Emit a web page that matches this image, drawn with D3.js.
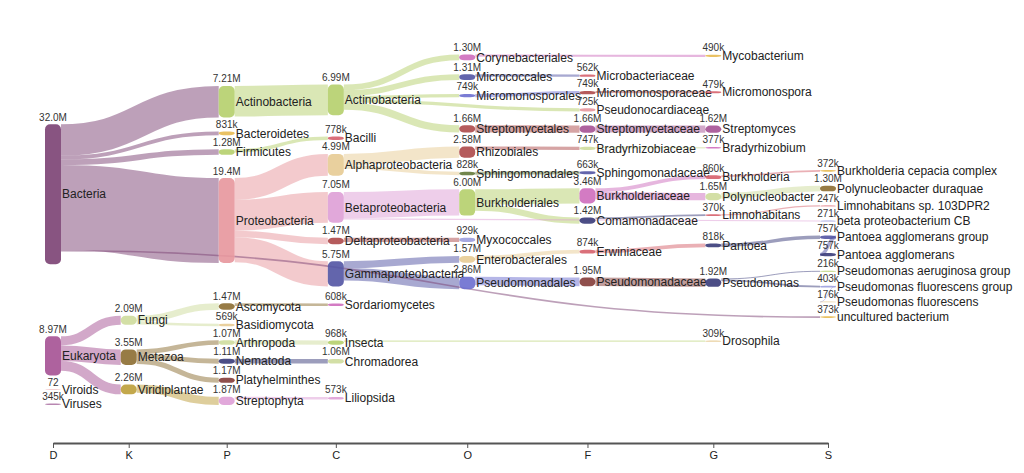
<!DOCTYPE html>
<html><head><meta charset="utf-8">
<script src="https://cdn.jsdelivr.net/npm/d3@7"></script>
<style>
body{margin:0;background:#fff;}
svg{display:block;font-family:Arial,"Liberation Sans",sans-serif;}
</style></head><body>
<svg id="chart" width="1024" height="473"></svg>
<script>
// ---------------- DATA ----------------
const rankLabels = ["D","K","P","C","O","F","G","S"];

const taxa = [
  "Bacteria","Actinobacteria","Actinobacteria","Corynebacteriales","Mycobacterium",
  "Micrococcales","Microbacteriaceae","Micromonosporales","Micromonosporaceae","Micromonospora",
  "Pseudonocardiaceae","Streptomycetales","Streptomycetaceae","Streptomyces","Bacteroidetes",
  "Firmicutes","Bacilli","Proteobacteria","Alphaproteobacteria","Rhizobiales",
  "Bradyrhizobiaceae","Bradyrhizobium","Sphingomonadales","Sphingomonadaceae","Betaproteobacteria",
  "Burkholderiales","Burkholderiaceae","Burkholderia","Burkholderia cepacia complex","Polynucleobacter",
  "Polynucleobacter duraquae","Comamonadaceae","Limnohabitans","Limnohabitans sp. 103DPR2","beta proteobacterium CB",
  "Deltaproteobacteria","Myxococcales","Gammaproteobacteria","Enterobacterales","Erwiniaceae",
  "Pantoea","Pantoea agglomerans group","Pantoea agglomerans","Pseudomonadales","Pseudomonadaceae",
  "Pseudomonas","Pseudomonas aeruginosa group","Pseudomonas fluorescens group","Pseudomonas fluorescens","uncultured bacterium",
  "Eukaryota","Fungi","Ascomycota","Sordariomycetes","Basidiomycota",
  "Metazoa","Arthropoda","Insecta","Drosophila","Nematoda",
  "Chromadorea","Platyhelminthes","Viridiplantae","Streptophyta","Liliopsida",
  "Viroids","Viruses"
];

const taxonRanks = [
  "D","P","C","O","G",
  "O","F","O","F","G",
  "F","O","F","G","P",
  "P","C","P","C","O",
  "F","G","O","F","C",
  "O","F","G","S","G",
  "S","F","G","S","S",
  "C","O","C","O","F",
  "G","S","S","O","F",
  "G","S","S","S","S",
  "D","K","P","C","P",
  "K","P","C","G","P",
  "C","P","K","P","C",
  "D","D"
];

const parentIndex = [
  -1,0,1,2,3,
  2,5,2,7,8,
  2,2,11,12,0,
  0,15,0,17,18,
  19,20,18,22,17,
  24,25,26,27,26,
  29,25,31,32,24,
  17,35,17,37,38,
  39,40,41,37,43,
  44,45,45,47,0,
  -1,50,51,52,51,
  50,55,56,57,55,
  59,55,50,62,63,
  -1,-1
];

const reads = [
  32.0e6,7.21e6,6.99e6,1.30e6,490e3,
  1.31e6,562e3,749e3,749e3,479e3,
  725e3,1.66e6,1.66e6,1.62e6,831e3,
  1.28e6,778e3,19.4e6,4.99e6,2.58e6,
  747e3,377e3,828e3,663e3,7.05e6,
  6.00e6,3.46e6,860e3,372e3,1.65e6,
  1.30e6,1.42e6,370e3,247e3,271e3,
  1.47e6,929e3,5.75e6,1.57e6,874e3,
  818e3,757e3,757e3,2.86e6,1.95e6,
  1.92e6,216e3,403e3,176e3,373e3,
  8.97e6,2.09e6,1.47e6,608e3,569e3,
  3.55e6,1.07e6,968e3,309e3,1.11e6,
  1.06e6,1.17e6,2.26e6,1.87e6,573e3,
  72,345e3
];

// ---------------- STYLE ----------------
const nodeColors = {
  "Bacteria|D":"#7b4173","Eukaryota|D":"#a55194","Viroids|D":"#e7969c","Viruses|D":"#b07aa8",
  "Fungi|K":"#cedb9c","Metazoa|K":"#8c6d31","Viridiplantae|K":"#bd9e39",
  "Actinobacteria|P":"#b5cf6b","Bacteroidetes|P":"#e7ba52","Firmicutes|P":"#b5cf6b","Proteobacteria|P":"#e7969c",
  "Ascomycota|P":"#8c6d31","Basidiomycota|P":"#e7cb94","Arthropoda|P":"#cedb9c","Nematoda|P":"#393b79",
  "Platyhelminthes|P":"#843c39","Streptophyta|P":"#de9ed6",
  "Actinobacteria|C":"#b5cf6b","Bacilli|C":"#d6616b","Alphaproteobacteria|C":"#e7cb94","Betaproteobacteria|C":"#de9ed6",
  "Deltaproteobacteria|C":"#ad494a","Gammaproteobacteria|C":"#5254a3","Sordariomycetes|C":"#ce6dbd",
  "Insecta|C":"#b5cf6b","Chromadorea|C":"#cedb9c","Liliopsida|C":"#de9ed6",
  "Corynebacteriales|O":"#ce6dbd","Micrococcales|O":"#5254a3","Micromonosporales|O":"#6b6ecf","Streptomycetales|O":"#ad494a",
  "Rhizobiales|O":"#ad494a","Sphingomonadales|O":"#637939","Burkholderiales|O":"#b5cf6b","Myxococcales|O":"#9c9ede",
  "Enterobacterales|O":"#e7cb94","Pseudomonadales|O":"#6b6ecf",
  "Microbacteriaceae|F":"#d6616b","Micromonosporaceae|F":"#ad494a","Pseudonocardiaceae|F":"#e7969c","Streptomycetaceae|F":"#a55194",
  "Bradyrhizobiaceae|F":"#cedb9c","Sphingomonadaceae|F":"#5254a3","Burkholderiaceae|F":"#ce6dbd","Comamonadaceae|F":"#393b79",
  "Erwiniaceae|F":"#d6616b","Pseudomonadaceae|F":"#843c39",
  "Mycobacterium|G":"#e7ba52","Micromonospora|G":"#d6616b","Streptomyces|G":"#a55194","Bradyrhizobium|G":"#ce6dbd",
  "Burkholderia|G":"#d6616b","Polynucleobacter|G":"#cedb9c","Limnohabitans|G":"#d6616b","Pantoea|G":"#393b79",
  "Pseudomonas|G":"#393b79","Drosophila|G":"#e7cb94",
  "Burkholderia cepacia complex|S":"#e7ba52","Polynucleobacter duraquae|S":"#8c6d31","Limnohabitans sp. 103DPR2|S":"#e7969c",
  "beta proteobacterium CB|S":"#9c9ede","Pantoea agglomerans group|S":"#5254a3","Pantoea agglomerans|S":"#393b79",
  "Pseudomonas aeruginosa group|S":"#b5cf6b","Pseudomonas fluorescens group|S":"#9c9ede","Pseudomonas fluorescens|S":"#e7cb94",
  "uncultured bacterium|S":"#e7ba52"
};

const Y0 = 47, Y1 = 405, nodeWidth = 16, py = 14, iterations = 150;
const axisY = 443;

// ---------------- BUILD ----------------
const svg = d3.select("#chart");
const nodes = taxa.map((name, i) => ({ index: i, name, rank: taxonRanks[i], value: reads[i], sourceLinks: [], targetLinks: [] }));
nodes.forEach(n => { n.color = nodeColors[n.name + "|" + n.rank] || "#999"; n.layer = rankLabels.indexOf(n.rank); });
const links = [];
parentIndex.forEach((p, i) => {
  if (p >= 0) {
    const l = { index: links.length, source: nodes[p], target: nodes[i], value: reads[i] };
    links.push(l); nodes[p].sourceLinks.push(l); nodes[i].targetLinks.push(l);
  }
});

const columns = rankLabels.map(r => nodes.filter(n => n.rank === r));
const maxChars = columns.map(c => d3.max(c, n => n.name.length) || 0);
const cum = Array.from(d3.cumsum([0, ...maxChars.slice(0, -1).map(m => m + 4.6)]));
const colPos = d3.scaleLinear().domain([0, cum[cum.length - 1]]).range([53, 828]);
const xRank = d3.scaleOrdinal().domain(rankLabels).range(cum.map(c => colPos(c)));
const yScale = d3.scaleLinear().domain([0, d3.max(reads)]).range([0, 140]);

nodes.forEach(n => { n.x = xRank(n.rank) - nodeWidth / 2; n.h = yScale(n.value); });
links.forEach(l => l.width = yScale(l.value));

// ---- sankey breadth layout (d3-sankey style, tree order kept) ----
const byBreadth = (a, b) => a.y0 - b.y0;
const srcBreadth = (a, b) => byBreadth(a.source, b.source) || a.index - b.index;
const tgtBreadth = (a, b) => byBreadth(a.target, b.target) || a.index - b.index;
function reorderLinks(ns) { ns.forEach(n => { n.sourceLinks.sort(tgtBreadth); n.targetLinks.sort(srcBreadth); }); }
function reorderNodeLinks(n) {
  n.targetLinks.forEach(l => l.source.sourceLinks.sort(tgtBreadth));
  n.sourceLinks.forEach(l => l.target.targetLinks.sort(srcBreadth));
}
columns.forEach(col => {
  let y = Y0;
  col.forEach(n => { n.y0 = y; n.y1 = y + n.h; y = n.y1 + py; });
  const s = (Y1 - y + py) / (col.length + 1);
  col.forEach((n, i) => { n.y0 += s * (i + 1); n.y1 += s * (i + 1); });
});
reorderLinks(nodes);

function targetTop(source, target) {
  let y = source.y0 - (source.sourceLinks.length - 1) * py / 2;
  for (const l of source.sourceLinks) { if (l.target === target) break; y += l.width + py; }
  for (const l of target.targetLinks) { if (l.source === source) break; y -= l.width; }
  return y;
}
function sourceTop(source, target) {
  let y = target.y0 - (target.targetLinks.length - 1) * py / 2;
  for (const l of target.targetLinks) { if (l.source === source) break; y += l.width + py; }
  for (const l of source.sourceLinks) { if (l.target === target) break; y -= l.width; }
  return y;
}
function resolveTopToBottom(ns, y, i, a) {
  for (; i < ns.length; ++i) { const n = ns[i]; const d = (y - n.y0) * a; if (d > 1e-6) { n.y0 += d; n.y1 += d; } y = n.y1 + py; }
}
function resolveBottomToTop(ns, y, i, a) {
  for (; i >= 0; --i) { const n = ns[i]; const d = (n.y1 - y) * a; if (d > 1e-6) { n.y0 -= d; n.y1 -= d; } y = n.y0 - py; }
}
function resolveCollisions(ns, a) {
  const i = ns.length >> 1, s = ns[i];
  resolveBottomToTop(ns, s.y0 - py, i - 1, a);
  resolveTopToBottom(ns, s.y1 + py, i + 1, a);
  resolveBottomToTop(ns, Y1, ns.length - 1, a);
  resolveTopToBottom(ns, Y0, 0, a);
}
function relaxLeftToRight(a, b) {
  for (let i = 1; i < columns.length; ++i) {
    const col = columns[i];
    for (const t of col) {
      let y = 0, w = 0;
      for (const l of t.targetLinks) { const v = l.value * (t.layer - l.source.layer); y += targetTop(l.source, t) * v; w += v; }
      if (!(w > 0)) continue;
      const d = (y / w - t.y0) * a; t.y0 += d; t.y1 += d; reorderNodeLinks(t);
    }
    resolveCollisions(col, b);
  }
}
function relaxRightToLeft(a, b) {
  for (let i = columns.length - 2; i >= 0; --i) {
    const col = columns[i];
    for (const s of col) {
      let y = 0, w = 0;
      for (const l of s.sourceLinks) { const v = l.value * (l.target.layer - s.layer); y += sourceTop(s, l.target) * v; w += v; }
      if (!(w > 0)) continue;
      const d = (y / w - s.y0) * a; s.y0 += d; s.y1 += d; reorderNodeLinks(s);
    }
    resolveCollisions(col, b);
  }
}
for (let i = 0; i < iterations; ++i) {
  const a = Math.pow(0.99, i), b = Math.max(1 - a, (i + 1) / iterations);
  relaxRightToLeft(a, b);
  relaxLeftToRight(a, b);
}
reorderLinks(nodes);
nodes.forEach(n => {
  let sy = n.y0; n.sourceLinks.forEach(l => { l.sy = sy + l.width / 2; sy += l.width; });
  let ty = n.y0; n.targetLinks.forEach(l => { l.ty = ty + l.width / 2; ty += l.width; });
});

function linkPath(l) {
  const x0 = l.source.x + nodeWidth, x1 = l.target.x;
  const xi = d3.interpolateNumber(x0, x1);
  const x2 = xi(0.5), x3 = xi(0.5);
  return `M${x0},${l.sy}C${x2},${l.sy} ${x3},${l.ty} ${x1},${l.ty}`;
}

svg.append("g").attr("class", "links")
  .selectAll("path").data(links).join("path")
  .attr("d", linkPath)
  .attr("fill", "none")
  .attr("stroke", l => l.source.color)
  .attr("stroke-opacity", 0.5)
  .attr("stroke-width", l => Math.max(1, l.width));

const ng = svg.append("g").attr("class", "nodes")
  .selectAll("g").data(nodes).join("g");
ng.append("rect")
  .attr("x", n => n.x).attr("y", n => n.y0)
  .attr("width", nodeWidth).attr("height", n => Math.max(n.h, 0.5))
  .attr("rx", 5).attr("ry", 5)
  .attr("fill", n => n.color)
  .attr("opacity", 0.9);

const fmt = v => v < 1000 ? String(Math.round(v)) : d3.format(".3s")(v);
ng.append("text")
  .attr("x", n => n.x + nodeWidth / 2).attr("y", n => n.y0 - 3.5)
  .attr("text-anchor", "middle").attr("font-size", 10).attr("fill", "#333")
  .text(n => fmt(n.value));
ng.append("text")
  .attr("x", n => n.x + nodeWidth + 1).attr("y", n => (n.y0 + n.y1) / 2)
  .attr("dy", "0.35em").attr("font-size", 12).attr("fill", "#222")
  .text(n => n.name);

// axis
const axis = d3.axisBottom(xRank).tickSizeInner(5).tickSizeOuter(0).tickPadding(3);
const ag = svg.append("g").attr("transform", `translate(0,${axisY})`).call(axis);
ag.select(".domain").attr("stroke", "#555").attr("stroke-width", 2);
ag.selectAll(".tick line").attr("stroke", "#555");
ag.selectAll(".tick text").attr("font-size", 11).attr("font-family", "Arial, 'Liberation Sans', sans-serif").attr("fill", "#222");
</script>
</body></html>
